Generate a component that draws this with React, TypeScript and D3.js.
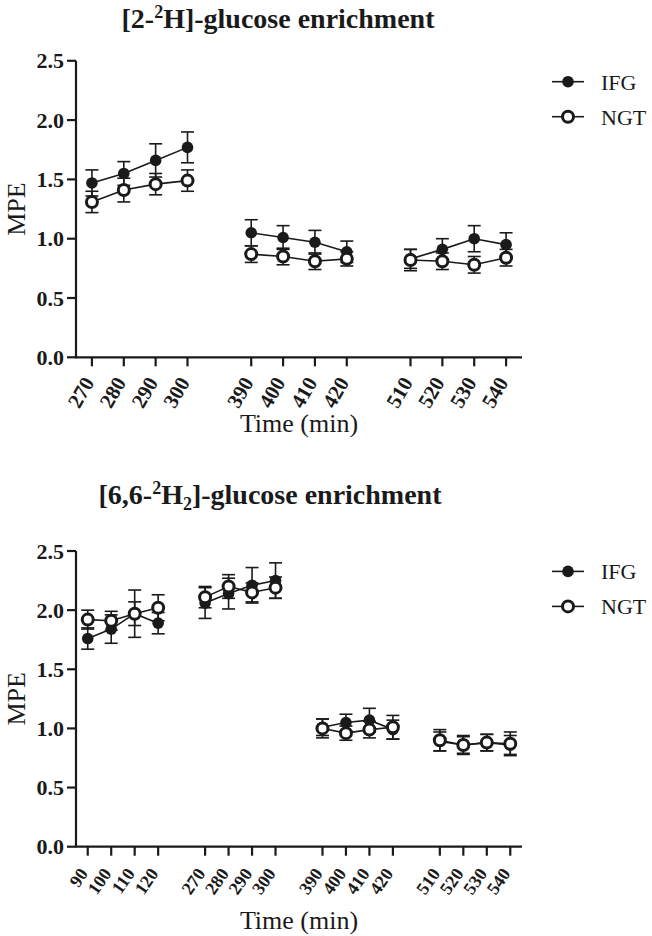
import React from "react";
import * as d3 from "d3";

const TOP_TIMES = [270, 280, 290, 300, 390, 400, 410, 420, 510, 520, 530, 540];
const TOP_IFG = [1.47, 1.55, 1.66, 1.77, 1.05, 1.01, 0.97, 0.89, 0.83, 0.91, 1.0, 0.95];
const TOP_IFG_SE = [0.11, 0.1, 0.14, 0.13, 0.11, 0.1, 0.1, 0.09, 0.08, 0.09, 0.11, 0.1];
const TOP_NGT = [1.31, 1.41, 1.46, 1.49, 0.87, 0.85, 0.81, 0.83, 0.82, 0.81, 0.78, 0.84];
const TOP_NGT_SE = [0.09, 0.1, 0.09, 0.09, 0.07, 0.07, 0.07, 0.06, 0.09, 0.07, 0.07, 0.07];

const BOT_TIMES = [90, 100, 110, 120, 270, 280, 290, 300, 390, 400, 410, 420, 510, 520, 530, 540];
const BOT_IFG = [1.76, 1.84, 1.97, 1.89, 2.06, 2.14, 2.21, 2.25, 1.01, 1.05, 1.07, 0.99, 0.89, 0.86, 0.88, 0.86];
const BOT_IFG_SE = [0.09, 0.12, 0.2, 0.09, 0.13, 0.13, 0.15, 0.15, 0.07, 0.07, 0.1, 0.08, 0.08, 0.07, 0.07, 0.08];
const BOT_NGT = [1.92, 1.91, 1.97, 2.02, 2.11, 2.2, 2.15, 2.19, 1.0, 0.96, 0.99, 1.01, 0.9, 0.86, 0.88, 0.87];
const BOT_NGT_SE = [0.08, 0.08, 0.1, 0.11, 0.09, 0.1, 0.08, 0.09, 0.08, 0.06, 0.07, 0.1, 0.09, 0.08, 0.07, 0.1];

const Y_TICKS = [0, 0.5, 1.0, 1.5, 2.0, 2.5];
const SERIES = ["IFG", "NGT"];
const GROUP_SIZE = 4;

const FONT = "'Liberation Serif', 'Times New Roman', serif";
const INK = "#1a1a1a";

type PanelProps = {
  times: number[];
  ifg: number[];
  ifgSe: number[];
  ngt: number[];
  ngtSe: number[];
  yTop: number;
  yBottom: number;
  tickFont: number;
  tickRot: number;
  tickDx: number;
  tickDy: number;
  timeLabelY: number;
  legendY: number;
};

function Panel(p: PanelProps) {
  const n = p.times.length;
  const pos = (i: number) => i + Math.floor(i / GROUP_SIZE);
  const maxPos = pos(n - 1);
  const x = d3.scaleLinear().domain([-0.5, maxPos + 0.5]).range([76, 522]);
  const y = d3.scaleLinear().domain([0, 2.5]).range([p.yBottom, p.yTop]);

  const groups = d3.range(0, n, GROUP_SIZE);

  const segPath = (vals: number[], start: number) => {
    const idx = d3.range(start, Math.min(start + GROUP_SIZE, n));
    return d3
      .line<number>()
      .x((i) => x(pos(i)))
      .y((i) => y(vals[i]))(idx) as string;
  };

  const errBars = (vals: number[], se: number[], key: string) =>
    vals.map((v, i) => {
      const cx = x(pos(i));
      const y1 = y(v + se[i]);
      const y2 = y(v - se[i]);
      return (
        <g key={key + i} stroke={INK} strokeWidth={1.6}>
          <line x1={cx} x2={cx} y1={y1} y2={y2} />
          <line x1={cx - 6.5} x2={cx + 6.5} y1={y1} y2={y1} />
          <line x1={cx - 6.5} x2={cx + 6.5} y1={y2} y2={y2} />
        </g>
      );
    });

  const cx0 = 568;
  return (
    <g fontFamily={FONT}>
      <line x1={76} x2={76} y1={y(2.5)} y2={y(0)} stroke={INK} strokeWidth={2.2} />
      {Y_TICKS.map((t) => (
        <g key={"yt" + t}>
          <line x1={67} x2={76} y1={y(t)} y2={y(t)} stroke={INK} strokeWidth={2.2} />
          <text x={64} y={y(t) + 7.5} textAnchor="end" fontSize={22} fontWeight="bold" fill={INK}>
            {t.toFixed(1)}
          </text>
        </g>
      ))}
      <text
        transform={`translate(25, ${(y(0) + y(2.5)) / 2}) rotate(-90)`}
        textAnchor="middle"
        fontSize={26}
        fill={INK}
      >
        MPE
      </text>
      <line x1={75} x2={522} y1={y(0)} y2={y(0)} stroke={INK} strokeWidth={2.2} />
      {p.times.map((t, i) => (
        <g key={"xt" + i}>
          <line x1={x(pos(i))} x2={x(pos(i))} y1={y(0)} y2={y(0) + 9} stroke={INK} strokeWidth={2.2} />
          <text
            transform={`translate(${x(pos(i)) + p.tickDx}, ${y(0) + p.tickDy}) rotate(${p.tickRot})`}
            textAnchor="end"
            fontSize={p.tickFont}
            fontWeight="bold"
            fill={INK}
          >
            {t}
          </text>
        </g>
      ))}
      <text x={299} y={p.timeLabelY} textAnchor="middle" fontSize={26} fill={INK}>
        Time (min)
      </text>
      {groups.map((g) => (
        <path key={"li" + g} d={segPath(p.ifg, g)} fill="none" stroke={INK} strokeWidth={1.6} />
      ))}
      {errBars(p.ifg, p.ifgSe, "ei")}
      {p.ifg.map((v, i) => (
        <circle key={"ci" + i} cx={x(pos(i))} cy={y(v)} r={5.8} fill={INK} />
      ))}
      {groups.map((g) => (
        <path key={"ln" + g} d={segPath(p.ngt, g)} fill="none" stroke={INK} strokeWidth={1.6} />
      ))}
      {errBars(p.ngt, p.ngtSe, "en")}
      {p.ngt.map((v, i) => (
        <circle key={"cn" + i} cx={x(pos(i))} cy={y(v)} r={5.5} fill="#fff" stroke={INK} strokeWidth={3} />
      ))}
      {SERIES.map((s, k) => {
        const ly = p.legendY + k * 35;
        return (
          <g key={"lg" + s}>
            <line x1={552} x2={584} y1={ly} y2={ly} stroke={INK} strokeWidth={1.6} />
            {k === 0 ? (
              <circle cx={cx0} cy={ly} r={5.8} fill={INK} />
            ) : (
              <circle cx={cx0} cy={ly} r={5.5} fill="#fff" stroke={INK} strokeWidth={3} />
            )}
            <text x={601} y={ly + 8} fontSize={22} fill={INK}>
              {s}
            </text>
          </g>
        );
      })}
    </g>
  );
}

export default function App() {
  return (
    <svg
      width={652}
      height={936}
      style={{ position: "absolute", left: 0, top: 0, background: "#fff" }}
    >
      <rect width={652} height={936} fill="#fff" />
      <text x={278} y={28} textAnchor="middle" fontFamily={FONT} fontWeight="bold" fontSize={28} fill={INK}>
        [2-<tspan dy={-10} fontSize={18}>2</tspan>
        <tspan dy={10}>H]-glucose enrichment</tspan>
      </text>
      <Panel
        times={TOP_TIMES}
        ifg={TOP_IFG}
        ifgSe={TOP_IFG_SE}
        ngt={TOP_NGT}
        ngtSe={TOP_NGT_SE}
        yTop={60.8}
        yBottom={357.3}
        tickFont={21}
        tickRot={-60}
        tickDx={3}
        tickDy={25}
        timeLabelY={432}
        legendY={81.7}
      />
      <text x={270} y={504} textAnchor="middle" fontFamily={FONT} fontWeight="bold" fontSize={28} fill={INK}>
        [6,6-<tspan dy={-10} fontSize={18}>2</tspan>
        <tspan dy={10}>H</tspan>
        <tspan dy={6} fontSize={18}>2</tspan>
        <tspan dy={-6}>]-glucose enrichment</tspan>
      </text>
      <Panel
        times={BOT_TIMES}
        ifg={BOT_IFG}
        ifgSe={BOT_IFG_SE}
        ngt={BOT_NGT}
        ngtSe={BOT_NGT_SE}
        yTop={551}
        yBottom={846.7}
        tickFont={18}
        tickRot={-55}
        tickDx={1}
        tickDy={27}
        timeLabelY={929}
        legendY={571.4}
      />
    </svg>
  );
}
